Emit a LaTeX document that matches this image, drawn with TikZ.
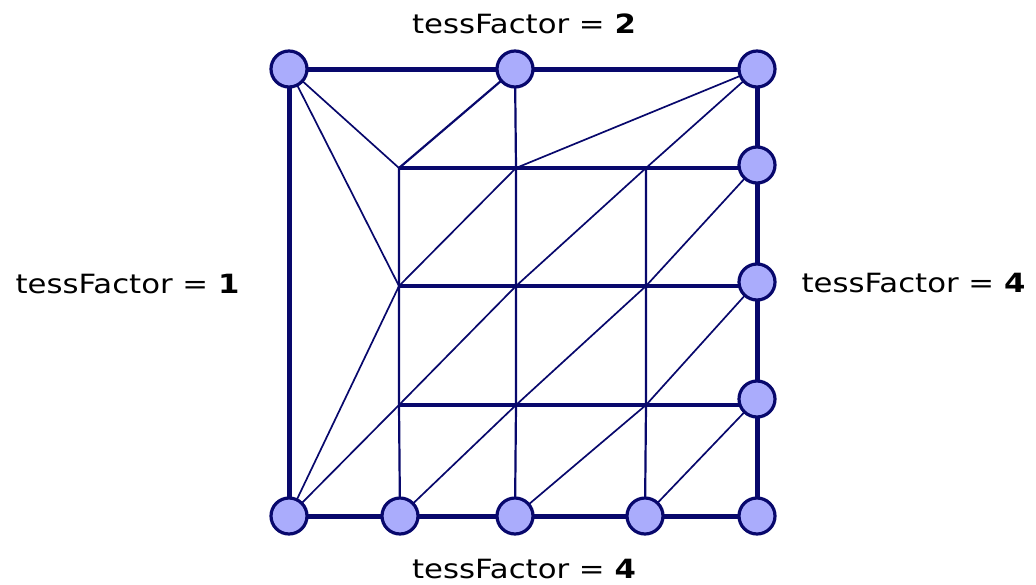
\documentclass[tikz,border=0pt]{standalone}
\usepackage{fontspec}
\setmainfont{DejaVu Sans}
\usetikzlibrary{backgrounds}
\definecolor{navy}{RGB}{8,8,108}
\definecolor{vfill}{RGB}{170,172,252}
\newcommand{\widetxt}[1]{\scalebox{1.16}[1]{#1}}
\begin{document}
\begin{tikzpicture}[x=1pt,y=-1pt,
  vtx/.style={circle,draw=navy,fill=vfill,line width=3.2pt,minimum size=36pt,inner sep=0pt},
  lab/.style={font=\fontsize{26.5}{31}\selectfont,text=black,inner sep=0pt,anchor=base},
  thickE/.style={draw=navy,line width=5pt},
  midE/.style={draw=navy,line width=3.6pt},
  vertE/.style={draw=navy,line width=2.2pt},
  thinE/.style={draw=navy,line width=1.7pt}]
\useasboundingbox (0,0) rectangle (1036,584);
% outer vertices
\node[vtx] (TL) at (289,69) {};
\node[vtx] (TM) at (515,69) {};
\node[vtx] (TR) at (757,69) {};
\node[vtx] (R1) at (757,165) {};
\node[vtx] (R2) at (757,282) {};
\node[vtx] (R3) at (757,399) {};
\node[vtx] (BL) at (289,516) {};
\node[vtx] (B1) at (400,516) {};
\node[vtx] (B2) at (515,516) {};
\node[vtx] (B3) at (645,516) {};
\node[vtx] (BR) at (757,516) {};
% inner points
\coordinate (p11) at (399,168);
\coordinate (p12) at (516,168);
\coordinate (p13) at (646,168);
\coordinate (p21) at (399,286);
\coordinate (p22) at (516,286);
\coordinate (p23) at (646,286);
\coordinate (p31) at (399,405);
\coordinate (p32) at (516,405);
\coordinate (p33) at (646,405);
% labels
\node[lab] (ltop) at (524,33) {\widetxt{tessFactor = \textbf{2}}};
\node[lab] (lbot) at (524,578) {\widetxt{tessFactor = \textbf{4}}};
\node[lab] (lleft) at (127.5,293) {\widetxt{tessFactor = \textbf{1}}};
\node[lab] (lright) at (913.5,292) {\widetxt{tessFactor = \textbf{4}}};
\begin{pgfonlayer}{background}
% thin diagonals
\draw[thinE] (TL.center) -- (p11);
\draw[thinE] (TL.center) -- (p21);
\draw[vertE] (TM.center) -- (p11);
\draw[thinE] (TR.center) -- (p12);
\draw[thinE] (TR.center) -- (p13);
\draw[thinE] (BL.center) -- (p21);
\draw[thinE] (BL.center) -- (p31);
\draw[thinE] (p21) -- (p12);
\draw[thinE] (p31) -- (p22) -- (p13);
\draw[thinE] (B1.center) -- (p32) -- (p23) -- (R1.center);
\draw[thinE] (B2.center) -- (p33) -- (R2.center);
\draw[thinE] (B3.center) -- (R3.center);
% verticals
\draw[vertE] (TM.center) -- (p12);
\draw[vertE] (p11) -- (p21) -- (p31) -- (B1.center);
\draw[vertE] (p12) -- (p22) -- (p32) -- (B2.center);
\draw[vertE] (p13) -- (p23) -- (p33) -- (B3.center);
% inner horizontals (straight, meeting the right-hand vertices)
\draw[midE] (p11) -- (p12) -- (p13) -- (p13 -| R1.center);
\draw[midE] (p21) -- (p22) -- (p23) -- (p23 -| R2.center);
\draw[midE] (p31) -- (p32) -- (p33) -- (p33 -| R3.center);
% outer boundary
\draw[thickE] (TL.center) -- (TM.center) -- (TR.center) -- (R1.center) -- (R2.center) -- (R3.center) -- (BR.center);
\draw[thickE] (BR.center) -- (B3.center) -- (B2.center) -- (B1.center) -- (BL.center) -- (TL.center);
\end{pgfonlayer}
\end{tikzpicture}
\end{document}
